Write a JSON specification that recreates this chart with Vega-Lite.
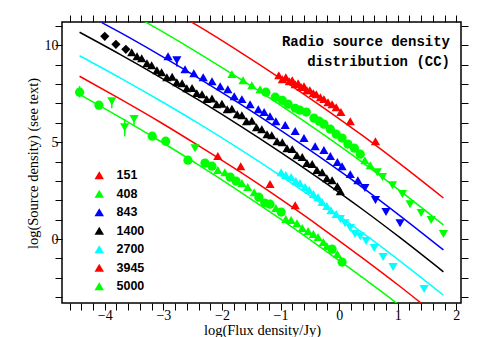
{
  "$schema": "https://vega.github.io/schema/vega-lite/v6.json",
  "width": 399,
  "height": 281,
  "autosize": {"type": "none"},
  "padding": {"left": 62, "top": 22, "right": 26, "bottom": 34},
  "background": "white",
  "config": {
    "view": {"stroke": "black", "strokeWidth": 1.5},
    "axis": {
      "domain": false, "grid": false, "tickColor": "black", "tickWidth": 1, "tickSize": 7,
      "labelFont": "Liberation Serif", "labelFontSize": 14, "labelColor": "black",
      "titleFont": "Liberation Serif", "titleFontSize": 14.5, "titleFontWeight": "normal", "titleColor": "black",
      "labelOverlap": false, "labelFlush": false, "labelBound": false
    }
  },
  "title": {
    "text": ["Radio source density", "distribution (CC)"],
    "anchor": "end", "frame": "group", "orient": "top", "offset": 0,
    "font": "Liberation Mono", "fontWeight": "bold", "fontSize": 14, "color": "black",
    "lineHeight": 20, "baseline": "top", "dx": -11, "dy": 54
  },
  "datasets": {
    "lines": [
      {"band": "151", "x": -2.6, "y": 11.34}, {"band": "151", "x": -2.38, "y": 10.95}, {"band": "151", "x": -1.69, "y": 9.65}, {"band": "151", "x": -1.01, "y": 8.31}, {"band": "151", "x": -0.32, "y": 6.89}, {"band": "151", "x": 0.39, "y": 5.36}, {"band": "151", "x": 1.04, "y": 3.88}, {"band": "151", "x": 1.78, "y": 2.12},
      {"band": "408", "x": -3.35, "y": 11.28}, {"band": "408", "x": -3.06, "y": 10.78}, {"band": "408", "x": -2.38, "y": 9.56}, {"band": "408", "x": -1.69, "y": 8.26}, {"band": "408", "x": -1.01, "y": 6.92}, {"band": "408", "x": -0.32, "y": 5.5}, {"band": "408", "x": 0.39, "y": 3.97}, {"band": "408", "x": 1.04, "y": 2.49}, {"band": "408", "x": 1.78, "y": 0.73},
      {"band": "843", "x": -4.05, "y": 11.17}, {"band": "843", "x": -3.74, "y": 10.66}, {"band": "843", "x": -3.06, "y": 9.49}, {"band": "843", "x": -2.38, "y": 8.27}, {"band": "843", "x": -1.69, "y": 6.97}, {"band": "843", "x": -1.01, "y": 5.63}, {"band": "843", "x": -0.32, "y": 4.21}, {"band": "843", "x": 0.39, "y": 2.68}, {"band": "843", "x": 1.04, "y": 1.2}, {"band": "843", "x": 1.78, "y": -0.56},
      {"band": "1400", "x": -4.43, "y": 10.67}, {"band": "1400", "x": -3.74, "y": 9.53}, {"band": "1400", "x": -3.06, "y": 8.36}, {"band": "1400", "x": -2.38, "y": 7.14}, {"band": "1400", "x": -1.69, "y": 5.84}, {"band": "1400", "x": -1.01, "y": 4.5}, {"band": "1400", "x": -0.32, "y": 3.08}, {"band": "1400", "x": 0.39, "y": 1.55}, {"band": "1400", "x": 1.04, "y": 0.07}, {"band": "1400", "x": 1.78, "y": -1.69},
      {"band": "2700", "x": -4.43, "y": 9.46}, {"band": "2700", "x": -3.74, "y": 8.32}, {"band": "2700", "x": -3.06, "y": 7.15}, {"band": "2700", "x": -2.38, "y": 5.93}, {"band": "2700", "x": -1.69, "y": 4.63}, {"band": "2700", "x": -1.01, "y": 3.29}, {"band": "2700", "x": -0.32, "y": 1.87}, {"band": "2700", "x": 0.39, "y": 0.34}, {"band": "2700", "x": 1.04, "y": -1.14}, {"band": "2700", "x": 1.78, "y": -2.9},
      {"band": "3945", "x": -4.43, "y": 8.4}, {"band": "3945", "x": -3.74, "y": 7.23}, {"band": "3945", "x": -3.06, "y": 6.04}, {"band": "3945", "x": -2.38, "y": 4.78}, {"band": "3945", "x": -1.69, "y": 3.46}, {"band": "3945", "x": -1.01, "y": 2.08}, {"band": "3945", "x": -0.32, "y": 0.62}, {"band": "3945", "x": 0.39, "y": -0.96}, {"band": "3945", "x": 1.04, "y": -2.45}, {"band": "3945", "x": 1.5, "y": -3.55},
      {"band": "5000", "x": -4.43, "y": 7.47}, {"band": "5000", "x": -3.74, "y": 6.28}, {"band": "5000", "x": -3.06, "y": 5.06}, {"band": "5000", "x": -2.38, "y": 3.79}, {"band": "5000", "x": -1.69, "y": 2.44}, {"band": "5000", "x": -1.01, "y": 1.05}, {"band": "5000", "x": -0.32, "y": -0.42}, {"band": "5000", "x": 0.39, "y": -1.97}, {"band": "5000", "x": 1.04, "y": -3.45}, {"band": "5000", "x": 1.2, "y": -3.85}
    ],
    "pts": [
      {"band": "151", "m": "up", "x": -1.03, "y": 8.45}, {"band": "151", "m": "up", "x": -0.97, "y": 8.25}, {"band": "151", "m": "up", "x": -0.91, "y": 8.35}, {"band": "151", "m": "up", "x": -0.85, "y": 8.14}, {"band": "151", "m": "up", "x": -0.8, "y": 8.2}, {"band": "151", "m": "up", "x": -0.75, "y": 7.99}, {"band": "151", "m": "up", "x": -0.7, "y": 8.04}, {"band": "151", "m": "up", "x": -0.65, "y": 7.84}, {"band": "151", "m": "up", "x": -0.6, "y": 7.89}, {"band": "151", "m": "up", "x": -0.55, "y": 7.68}, {"band": "151", "m": "up", "x": -0.5, "y": 7.68}, {"band": "151", "m": "up", "x": -0.44, "y": 7.53}, {"band": "151", "m": "up", "x": -0.39, "y": 7.47}, {"band": "151", "m": "up", "x": -0.32, "y": 7.32}, {"band": "151", "m": "up", "x": -0.26, "y": 7.22}, {"band": "151", "m": "up", "x": -0.19, "y": 7.06}, {"band": "151", "m": "up", "x": -0.12, "y": 6.96}, {"band": "151", "m": "up", "x": -0.05, "y": 6.8}, {"band": "151", "m": "up", "x": 0.03, "y": 6.55}, {"band": "151", "m": "up", "x": 0.19, "y": 6.08}, {"band": "151", "m": "up", "x": 0.62, "y": 5.05},
      {"band": "408", "m": "up", "x": -1.83, "y": 8.51}, {"band": "408", "m": "up", "x": -1.64, "y": 8.2}, {"band": "408", "m": "up", "x": -1.49, "y": 7.94}, {"band": "408", "m": "up", "x": -1.35, "y": 7.73}, {"band": "408", "m": "circle", "x": -1.25, "y": 7.58}, {"band": "408", "m": "circle", "x": -1.09, "y": 7.32}, {"band": "408", "m": "circle", "x": -0.97, "y": 7.16}, {"band": "408", "m": "circle", "x": -0.87, "y": 6.96}, {"band": "408", "m": "circle", "x": -0.75, "y": 6.75}, {"band": "408", "m": "circle", "x": -0.67, "y": 6.65}, {"band": "408", "m": "circle", "x": -0.56, "y": 6.55}, {"band": "408", "m": "circle", "x": -0.43, "y": 6.24}, {"band": "408", "m": "circle", "x": -0.34, "y": 6.08}, {"band": "408", "m": "circle", "x": -0.26, "y": 5.93}, {"band": "408", "m": "circle", "x": -0.15, "y": 5.67}, {"band": "408", "m": "circle", "x": -0.05, "y": 5.41}, {"band": "408", "m": "circle", "x": 0.05, "y": 5.21}, {"band": "408", "m": "circle", "x": 0.15, "y": 4.9}, {"band": "408", "m": "circle", "x": 0.26, "y": 4.69}, {"band": "408", "m": "circle", "x": 0.36, "y": 4.38}, {"band": "408", "m": "up", "x": 0.44, "y": 4.07}, {"band": "408", "m": "up", "x": 0.53, "y": 3.81}, {"band": "408", "m": "down", "x": 0.65, "y": 3.45}, {"band": "408", "m": "down", "x": 0.74, "y": 3.2}, {"band": "408", "m": "down", "x": 0.91, "y": 2.78}, {"band": "408", "m": "down", "x": 1.08, "y": 2.32}, {"band": "408", "m": "down", "x": 1.21, "y": 1.8}, {"band": "408", "m": "down", "x": 1.4, "y": 1.34}, {"band": "408", "m": "down", "x": 1.57, "y": 0.98}, {"band": "408", "m": "down", "x": 1.78, "y": 0.26},
      {"band": "843", "m": "up", "x": -2.92, "y": 9.43}, {"band": "843", "m": "down", "x": -2.77, "y": 9.23}, {"band": "843", "m": "up", "x": -2.63, "y": 8.76}, {"band": "843", "m": "up", "x": -2.48, "y": 8.56}, {"band": "843", "m": "up", "x": -2.32, "y": 8.35}, {"band": "843", "m": "up", "x": -2.17, "y": 8.14}, {"band": "843", "m": "up", "x": -2.03, "y": 7.89}, {"band": "843", "m": "up", "x": -1.9, "y": 7.73}, {"band": "843", "m": "up", "x": -1.79, "y": 7.37}, {"band": "843", "m": "up", "x": -1.66, "y": 7.22}, {"band": "843", "m": "up", "x": -1.52, "y": 6.96}, {"band": "843", "m": "up", "x": -1.38, "y": 6.7}, {"band": "843", "m": "up", "x": -1.28, "y": 6.55}, {"band": "843", "m": "up", "x": -1.18, "y": 6.34}, {"band": "843", "m": "up", "x": -1.08, "y": 6.08}, {"band": "843", "m": "up", "x": -0.92, "y": 5.88}, {"band": "843", "m": "up", "x": -0.75, "y": 5.57}, {"band": "843", "m": "up", "x": -0.6, "y": 5.21}, {"band": "843", "m": "up", "x": -0.41, "y": 4.79}, {"band": "843", "m": "up", "x": -0.26, "y": 4.59}, {"band": "843", "m": "up", "x": -0.15, "y": 4.28}, {"band": "843", "m": "up", "x": -0.03, "y": 3.97}, {"band": "843", "m": "up", "x": 0.05, "y": 3.76}, {"band": "843", "m": "up", "x": 0.19, "y": 3.35}, {"band": "843", "m": "up", "x": 0.32, "y": 3.04}, {"band": "843", "m": "down", "x": 0.44, "y": 2.63}, {"band": "843", "m": "down", "x": 0.62, "y": 2.01}, {"band": "843", "m": "down", "x": 0.8, "y": 1.39}, {"band": "843", "m": "down", "x": 1.04, "y": 0.82},
      {"band": "1400", "m": "diamond", "x": -4.0, "y": 10.46}, {"band": "1400", "m": "diamond", "x": -3.81, "y": 10.05}, {"band": "1400", "m": "diamond", "x": -3.64, "y": 9.79}, {"band": "1400", "m": "up", "x": -3.54, "y": 9.64}, {"band": "1400", "m": "up", "x": -3.45, "y": 9.43}, {"band": "1400", "m": "up", "x": -3.37, "y": 9.33}, {"band": "1400", "m": "up", "x": -3.28, "y": 9.07}, {"band": "1400", "m": "up", "x": -3.2, "y": 8.97}, {"band": "1400", "m": "up", "x": -3.11, "y": 8.71}, {"band": "1400", "m": "up", "x": -3.03, "y": 8.61}, {"band": "1400", "m": "up", "x": -2.94, "y": 8.35}, {"band": "1400", "m": "up", "x": -2.85, "y": 8.38}, {"band": "1400", "m": "up", "x": -2.77, "y": 8.09}, {"band": "1400", "m": "up", "x": -2.68, "y": 8.04}, {"band": "1400", "m": "up", "x": -2.6, "y": 7.78}, {"band": "1400", "m": "up", "x": -2.51, "y": 7.8}, {"band": "1400", "m": "up", "x": -2.43, "y": 7.53}, {"band": "1400", "m": "up", "x": -2.34, "y": 7.47}, {"band": "1400", "m": "up", "x": -2.26, "y": 7.22}, {"band": "1400", "m": "up", "x": -2.17, "y": 7.25}, {"band": "1400", "m": "up", "x": -2.09, "y": 6.96}, {"band": "1400", "m": "up", "x": -2.0, "y": 6.98}, {"band": "1400", "m": "up", "x": -1.91, "y": 6.7}, {"band": "1400", "m": "up", "x": -1.83, "y": 6.72}, {"band": "1400", "m": "up", "x": -1.74, "y": 6.44}, {"band": "1400", "m": "up", "x": -1.66, "y": 6.39}, {"band": "1400", "m": "up", "x": -1.58, "y": 6.08}, {"band": "1400", "m": "up", "x": -1.49, "y": 6.1}, {"band": "1400", "m": "up", "x": -1.41, "y": 5.77}, {"band": "1400", "m": "up", "x": -1.32, "y": 5.67}, {"band": "1400", "m": "up", "x": -1.23, "y": 5.41}, {"band": "1400", "m": "up", "x": -1.15, "y": 5.36}, {"band": "1400", "m": "up", "x": -1.06, "y": 5.05}, {"band": "1400", "m": "up", "x": -0.97, "y": 5.0}, {"band": "1400", "m": "up", "x": -0.89, "y": 4.69}, {"band": "1400", "m": "up", "x": -0.8, "y": 4.64}, {"band": "1400", "m": "up", "x": -0.72, "y": 4.33}, {"band": "1400", "m": "up", "x": -0.63, "y": 4.23}, {"band": "1400", "m": "up", "x": -0.55, "y": 3.92}, {"band": "1400", "m": "up", "x": -0.46, "y": 3.87}, {"band": "1400", "m": "up", "x": -0.38, "y": 3.56}, {"band": "1400", "m": "up", "x": -0.29, "y": 3.45}, {"band": "1400", "m": "up", "x": -0.21, "y": 3.14}, {"band": "1400", "m": "up", "x": -0.12, "y": 3.04}, {"band": "1400", "m": "up", "x": -0.03, "y": 2.73}, {"band": "1400", "m": "up", "x": 0.02, "y": 2.47},
      {"band": "2700", "m": "up", "x": -0.99, "y": 3.45}, {"band": "2700", "m": "up", "x": -0.91, "y": 3.3}, {"band": "2700", "m": "up", "x": -0.82, "y": 3.2}, {"band": "2700", "m": "up", "x": -0.74, "y": 2.99}, {"band": "2700", "m": "up", "x": -0.67, "y": 2.89}, {"band": "2700", "m": "up", "x": -0.58, "y": 2.68}, {"band": "2700", "m": "up", "x": -0.51, "y": 2.53}, {"band": "2700", "m": "up", "x": -0.44, "y": 2.32}, {"band": "2700", "m": "up", "x": -0.36, "y": 2.16}, {"band": "2700", "m": "up", "x": -0.29, "y": 1.91}, {"band": "2700", "m": "up", "x": -0.21, "y": 1.7}, {"band": "2700", "m": "up", "x": -0.14, "y": 1.49}, {"band": "2700", "m": "up", "x": -0.05, "y": 1.29}, {"band": "2700", "m": "down", "x": 0.02, "y": 1.03}, {"band": "2700", "m": "down", "x": 0.1, "y": 0.82}, {"band": "2700", "m": "down", "x": 0.19, "y": 0.57}, {"band": "2700", "m": "down", "x": 0.27, "y": 0.26}, {"band": "2700", "m": "down", "x": 0.36, "y": 0.15}, {"band": "2700", "m": "down", "x": 0.46, "y": -0.1}, {"band": "2700", "m": "down", "x": 0.6, "y": -0.46}, {"band": "2700", "m": "down", "x": 0.75, "y": -0.93}, {"band": "2700", "m": "down", "x": 0.92, "y": -1.44}, {"band": "2700", "m": "down", "x": 1.45, "y": -2.58},
      {"band": "3945", "m": "up", "x": -2.07, "y": 4.28}, {"band": "3945", "m": "up", "x": -1.68, "y": 3.76}, {"band": "3945", "m": "up", "x": -1.18, "y": 2.84}, {"band": "3945", "m": "up", "x": -0.75, "y": 1.75},
      {"band": "5000", "m": "circle", "x": -4.43, "y": 7.58}, {"band": "5000", "m": "circle", "x": -4.1, "y": 6.91}, {"band": "5000", "m": "down", "x": -3.88, "y": 7.11}, {"band": "5000", "m": "down", "x": -3.66, "y": 5.77}, {"band": "5000", "m": "down", "x": -3.5, "y": 6.19}, {"band": "5000", "m": "circle", "x": -3.19, "y": 5.31}, {"band": "5000", "m": "circle", "x": -2.96, "y": 5.05}, {"band": "5000", "m": "circle", "x": -2.58, "y": 4.07}, {"band": "5000", "m": "down", "x": -2.46, "y": 4.69}, {"band": "5000", "m": "circle", "x": -2.29, "y": 3.92}, {"band": "5000", "m": "circle", "x": -2.17, "y": 3.76}, {"band": "5000", "m": "up", "x": -2.07, "y": 3.56}, {"band": "5000", "m": "up", "x": -1.95, "y": 3.45}, {"band": "5000", "m": "circle", "x": -1.86, "y": 3.2}, {"band": "5000", "m": "circle", "x": -1.76, "y": 2.99}, {"band": "5000", "m": "up", "x": -1.66, "y": 2.89}, {"band": "5000", "m": "up", "x": -1.56, "y": 2.68}, {"band": "5000", "m": "up", "x": -1.45, "y": 2.42}, {"band": "5000", "m": "circle", "x": -1.37, "y": 2.16}, {"band": "5000", "m": "circle", "x": -1.27, "y": 1.86}, {"band": "5000", "m": "circle", "x": -1.18, "y": 1.8}, {"band": "5000", "m": "up", "x": -1.08, "y": 1.6}, {"band": "5000", "m": "circle", "x": -0.99, "y": 1.39}, {"band": "5000", "m": "up", "x": -0.91, "y": 1.03}, {"band": "5000", "m": "up", "x": -0.82, "y": 0.98}, {"band": "5000", "m": "up", "x": -0.72, "y": 0.82}, {"band": "5000", "m": "up", "x": -0.63, "y": 0.57}, {"band": "5000", "m": "up", "x": -0.53, "y": 0.41}, {"band": "5000", "m": "up", "x": -0.44, "y": 0.26}, {"band": "5000", "m": "up", "x": -0.36, "y": 0.1}, {"band": "5000", "m": "up", "x": -0.27, "y": -0.15}, {"band": "5000", "m": "up", "x": -0.21, "y": -0.36}, {"band": "5000", "m": "circle", "x": -0.12, "y": -0.52}, {"band": "5000", "m": "up", "x": -0.03, "y": -0.77}, {"band": "5000", "m": "circle", "x": 0.05, "y": -1.19}
    ],
    "err": [
      {"band": "5000", "x": -4.43, "lo": 7.3, "hi": 7.9},
      {"band": "5000", "x": -3.88, "lo": 6.75, "hi": 7.11},
      {"band": "5000", "x": -3.66, "lo": 5.3, "hi": 6.2},
      {"band": "5000", "x": -3.5, "lo": 5.85, "hi": 6.19},
      {"band": "843", "x": -2.77, "lo": 8.9, "hi": 9.23}
    ]
  },
  "layer": [
    {
      "data": {"name": "lines"},
      "mark": {"type": "line", "strokeWidth": 1.5, "interpolate": "monotone", "clip": true},
      "encoding": {
        "x": {
          "field": "x", "type": "quantitative",
          "scale": {"domain": [-4.73, 2.08], "nice": false, "zero": false},
          "axis": {
            "orient": "bottom",
            "values": [-4.6, -4.4, -4.2, -4, -3.8, -3.6, -3.4, -3.2, -3, -2.8, -2.6, -2.4, -2.2, -2, -1.8, -1.6, -1.4, -1.2, -1, -0.8, -0.6, -0.4, -0.2, 0, 0.2, 0.4, 0.6, 0.8, 1, 1.2, 1.4, 1.6, 1.8, 2],
            "labelExpr": "abs(datum.value - round(datum.value)) < 0.01 ? format(datum.value, 'd') : ''",
            "labelPadding": -2,
            "encode": {"ticks": {"update": {"y": {"value": 0}, "y2": {"signal": "abs(datum.value - round(datum.value)) < 0.01 ? -7 : -4"}}}},
            "title": "log(Flux density/Jy)", "titleX": 200, "titleY": 27, "titleBaseline": "middle", "titleAlign": "center"
          }
        },
        "y": {
          "field": "y", "type": "quantitative",
          "scale": {"domain": [-3.3, 11.2], "nice": false, "zero": false},
          "axis": {
            "orient": "left",
            "values": [-3, -2, -1, 0, 1, 2, 3, 4, 5, 6, 7, 8, 9, 10, 11],
            "labelExpr": "datum.value % 5 === 0 ? format(datum.value, 'd') : ''",
            "labelPadding": -3,
            "encode": {"ticks": {"update": {"x": {"value": 0}, "x2": {"signal": "datum.value % 5 === 0 ? 7 : 4"}}}},
            "title": "log(Source density) (see text)", "titleX": -29, "titleY": 141, "titleBaseline": "middle", "titleAlign": "center", "titleAngle": -90
          }
        },
        "color": {
          "field": "band", "type": "nominal",
          "scale": {"domain": ["151", "408", "843", "1400", "2700", "3945", "5000"], "range": ["#ff0000", "#00ff00", "#0000ff", "#000000", "#00ffff", "#ff0000", "#00ff00"]},
          "legend": null
        }
      }
    },
    {
      "data": {"name": "err"},
      "mark": {"type": "rule", "strokeWidth": 1.5},
      "encoding": {
        "x": {"field": "x", "type": "quantitative", "axis": null},
        "y": {"field": "lo", "type": "quantitative", "axis": null},
        "y2": {"field": "hi"},
        "color": {"field": "band", "type": "nominal", "legend": null}
      }
    },
    {
      "data": {"name": "pts"},
      "mark": {"type": "point", "filled": true, "opacity": 1, "size": 85},
      "encoding": {
        "x": {
          "field": "x", "type": "quantitative",
          "axis": {
            "orient": "top", "labels": false, "title": null,
            "values": [-4.6, -4.4, -4.2, -4, -3.8, -3.6, -3.4, -3.2, -3, -2.8, -2.6, -2.4, -2.2, -2, -1.8, -1.6, -1.4, -1.2, -1, -0.8, -0.6, -0.4, -0.2, 0, 0.2, 0.4, 0.6, 0.8, 1, 1.2, 1.4, 1.6, 1.8, 2],
            "encode": {"ticks": {"update": {"y": {"value": 0}, "y2": {"signal": "abs(datum.value - round(datum.value)) < 0.01 ? 7 : 4"}}}}
          }
        },
        "y": {
          "field": "y", "type": "quantitative",
          "axis": {
            "orient": "right", "labels": false, "title": null,
            "values": [-3, -2, -1, 0, 1, 2, 3, 4, 5, 6, 7, 8, 9, 10, 11],
            "encode": {"ticks": {"update": {"x": {"value": 0}, "x2": {"signal": "datum.value % 5 === 0 ? -7 : -4"}}}}
          }
        },
        "shape": {
          "field": "m", "type": "nominal",
          "scale": {"domain": ["up", "down", "circle", "diamond"], "range": ["triangle-up", "triangle-down", "circle", "diamond"]},
          "legend": null
        },
        "color": {
          "field": "band", "type": "nominal",
          "legend": {
            "orient": "none", "legendX": 31, "legendY": 147, "title": null, "padding": 0,
            "symbolType": "triangle-up", "symbolSize": 90, "symbolStrokeWidth": 0,
            "labelFont": "Liberation Sans", "labelFontWeight": "bold", "labelFontSize": 12.5,
            "labelOffset": 11, "rowPadding": 5.5,
            "encode": {"labels": {"update": {"fill": {"scale": "color", "field": "value"}}}}
          }
        }
      }
    }
  ],
  "resolve": {"axis": {"x": "independent", "y": "independent"}, "legend": {"color": "independent"}}
}
